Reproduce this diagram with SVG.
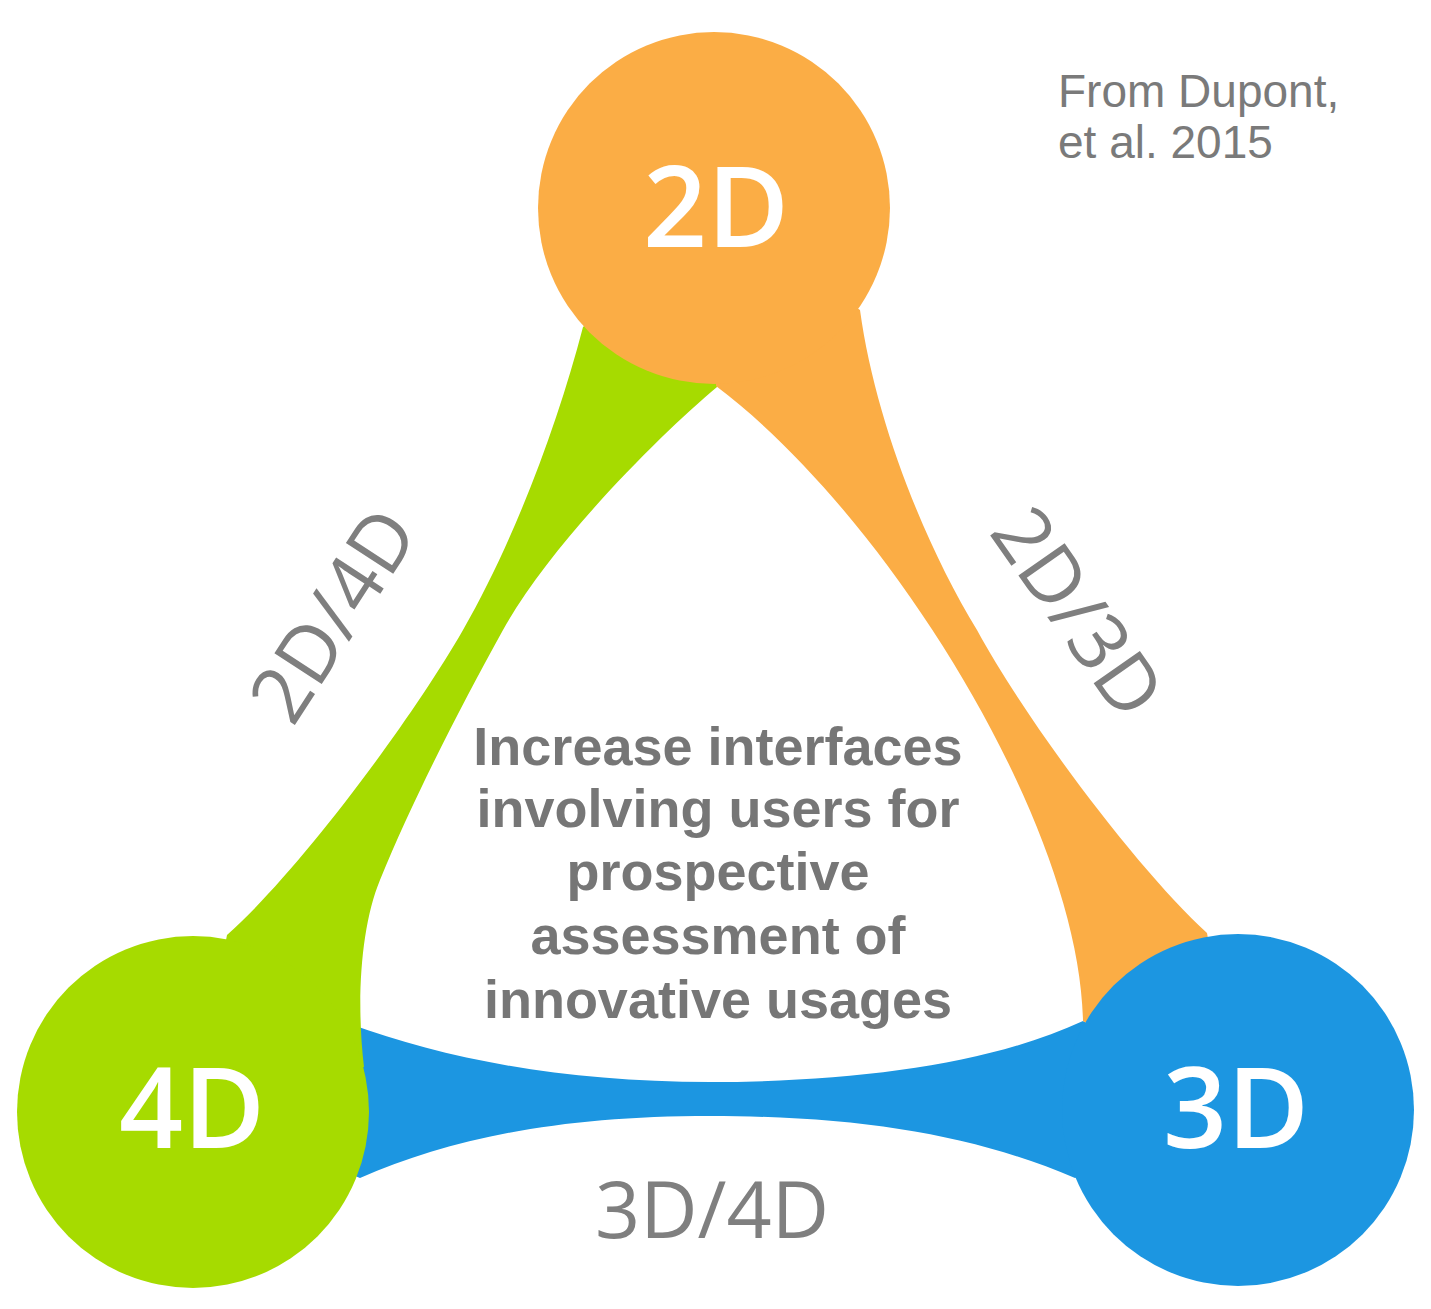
<svg xmlns="http://www.w3.org/2000/svg" width="1431" height="1309" viewBox="0 0 1431 1309">
  <style>
    .orange { fill: #FBAD45; }
    .green { fill: #A6DB00; }
    .blue { fill: #1C96E1; }
    .node-label { font-family: "Open Sans", "DejaVu Sans", sans-serif; font-weight: 600; font-size: 112px; fill: #FFFFFF; text-anchor: middle; }
    .link-label { font-family: "Open Sans", "DejaVu Sans", sans-serif; font-weight: 400; font-size: 79px; fill: #7F7F7F; text-anchor: middle; }
    .center-text { font-family: "Liberation Sans", Arial, sans-serif; font-weight: 700; font-size: 54px; fill: #767676; text-anchor: middle; }
    .credit { font-family: "Liberation Sans", Arial, sans-serif; font-weight: 400; font-size: 46px; fill: #7A7A7A; }
  </style>

  <rect x="0" y="0" width="1431" height="1309" fill="#FFFFFF"/>

  <!-- Tapered bands between the three circles (each band runs under the circle it ends in) -->
  <g id="connectors">
    <!-- 3D / 4D (blue) -->
    <path id="band-3d-4d" class="blue"
          d="M 193,1112 L 350,1024
             C 444,1058 560,1082 710,1082
             C 860,1082 993,1063 1083,1021
             L 1238,1110 L 1075,1178
             C 974,1135 860,1116 710,1116
             C 560,1116 452,1138 360,1178 Z"/>
    <!-- 2D / 4D (green) -->
    <path id="band-2d-4d" class="green"
          d="M 714,208 L 583,327
             C 557,427 513,543 463,630
             C 408,725.7 294.5,875.6 227,935
             L 193,1112 L 364,1067
             C 356,1000 361,926 380,880
             C 414,797 460,708 503,630
             C 551,543 663,432 717,387 Z"/>
    <!-- 2D / 3D (orange) -->
    <path id="band-2d-3d" class="orange"
          d="M 714,208 L 860,310
             C 875,420 925,545 977,630
             C 1030,727 1140,872 1207,933
             L 1238,1110 L 1083,1021
             C 1079,821 884,512 716,386 Z"/>

    <text class="link-label" transform="translate(333,615) rotate(-57)" x="0" y="28">2D/4D</text>
    <text class="link-label" transform="translate(1078,612) rotate(55)" x="0" y="28">2D/3D</text>
    <text class="link-label" x="712" y="1238">3D/4D</text>
  </g>

  <!-- Nodes -->
  <g id="node-2d">
    <circle class="orange" cx="714" cy="208" r="176"/>
    <text class="node-label" x="716" y="247">2D</text>
  </g>
  <g id="node-4d">
    <circle class="green" cx="193" cy="1112" r="176"/>
    <text class="node-label" x="192" y="1148">4D</text>
  </g>
  <g id="node-3d">
    <circle class="blue" cx="1238" cy="1110" r="176"/>
    <text class="node-label" x="1236" y="1148">3D</text>
  </g>

  <!-- Central statement -->
  <g id="center-statement">
    <text class="center-text" x="718" y="765">Increase interfaces</text>
    <text class="center-text" x="718" y="827">involving users for</text>
    <text class="center-text" x="718" y="890">prospective</text>
    <text class="center-text" x="718" y="954">assessment of</text>
    <text class="center-text" x="718" y="1018">innovative usages</text>
  </g>

  <!-- Source credit -->
  <g id="credit">
    <text class="credit" x="1058" y="107">From Dupont,</text>
    <text class="credit" x="1058" y="158">et al. 2015</text>
  </g>
</svg>
